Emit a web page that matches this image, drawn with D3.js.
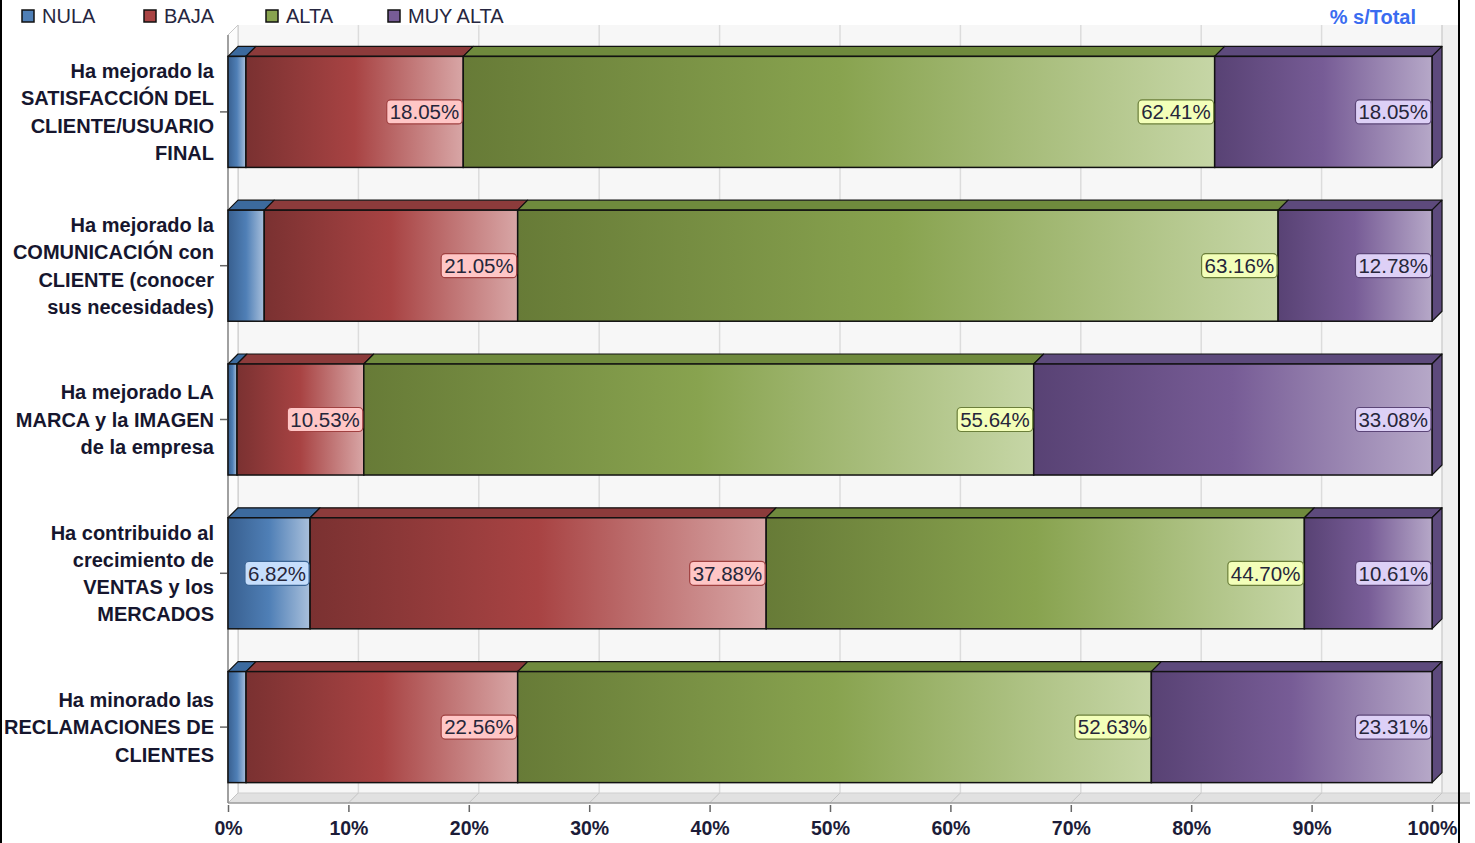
<!DOCTYPE html>
<html>
<head>
<meta charset="utf-8">
<script src="https://cdn.jsdelivr.net/npm/d3@7"></script>
<style>
  body { margin: 0; background: #fff; }
  svg { display: block; font-family: "Liberation Sans", Arial, sans-serif; }
</style>
</head>
<body>
<svg id="chart" width="1475" height="843"></svg>
<script>
// data (% s/Total)
var categories = [
    ["Ha mejorado la", "SATISFACCIÓN DEL", "CLIENTE/USUARIO", "FINAL"],
    ["Ha mejorado la", "COMUNICACIÓN con", "CLIENTE (conocer", "sus necesidades)"],
    ["Ha mejorado LA", "MARCA y la IMAGEN", "de la empresa"],
    ["Ha contribuido al", "crecimiento de", "VENTAS y los", "MERCADOS"],
    ["Ha minorado las", "RECLAMACIONES DE", "CLIENTES"]
];
var series_names = ["NULA", "BAJA", "ALTA", "MUY ALTA"];
var nula     = [1.49, 3.01, 0.75, 6.82, 1.50];
var baja     = [18.05, 21.05, 10.53, 37.88, 22.56];
var alta     = [62.41, 63.16, 55.64, 44.70, 52.63];
var muy_alta = [18.05, 12.78, 33.08, 10.61, 23.31];
var x_ticks  = [0, 10, 20, 30, 40, 50, 60, 70, 80, 90, 100];

// colours per series: dark / mid / light for gradient, top face, label box
var colours = [
    {dark: "#385f8f", mid: "#4f7fb6", light: "#a9c0dc", top: "#3c6a9e", box: "#c6defc", boxStroke: "#3a6494"},
    {dark: "#7a3131", mid: "#a84343", light: "#d8a6a6", top: "#8c3b3b", box: "#ffc6c6", boxStroke: "#a04040"},
    {dark: "#677b37", mid: "#88a34f", light: "#c6d6a6", top: "#6f8a3d", box: "#f3ffb9", boxStroke: "#6b7f3a"},
    {dark: "#584274", mid: "#775c96", light: "#b6a8c8", top: "#5d4a7c", box: "#ddd0f6", boxStroke: "#5b4577"}
];

var rows = categories.map(function(c, i) {
    var vals = [nula[i], baja[i], alta[i], muy_alta[i]];
    var acc = 0;
    return vals.map(function(v, k) {
        var seg = {row: i, k: k, v: v, x0: acc, x1: acc + v};
        acc += v;
        return seg;
    });
});

var svg = d3.select("#chart");
var depth = 10;
var x_scale = d3.scaleLinear().domain([0, 100]).range([228, 1432]);
var y_scale = d3.scaleBand().domain(d3.range(categories.length))
    .range([35, 804]).paddingInner(0.278).paddingOuter(0.139);

var wall_top = 25, floor_y = 803;

// gradients
var defs = svg.append("defs");
colours.forEach(function(c, k) {
    var g = defs.append("linearGradient").attr("id", "grad" + k)
        .attr("x1", "0%").attr("x2", "100%").attr("y1", "0%").attr("y2", "0%");
    g.append("stop").attr("offset", "0%").attr("stop-color", c.dark);
    g.append("stop").attr("offset", "50%").attr("stop-color", c.mid);
    g.append("stop").attr("offset", "100%").attr("stop-color", c.light);
});

// back wall + side strip on the right
svg.append("rect").attr("x", x_scale(100) + depth).attr("y", wall_top)
    .attr("width", 1459 - x_scale(100) - depth).attr("height", floor_y - depth - wall_top)
    .attr("fill", "#f0f0f0");
svg.append("rect").attr("x", x_scale(0) + depth).attr("y", wall_top)
    .attr("width", x_scale(100) - x_scale(0)).attr("height", floor_y - depth - wall_top)
    .attr("fill", "#f7f7f7");

// back wall grid
svg.append("g").selectAll("line").data(x_ticks).enter().append("line")
    .attr("x1", d => x_scale(d) + depth).attr("x2", d => x_scale(d) + depth)
    .attr("y1", wall_top).attr("y2", floor_y - depth)
    .attr("stroke", "#dcdcdc").attr("stroke-width", 1.5);
svg.append("line").attr("x1", x_scale(100) + depth).attr("x2", x_scale(100) + depth)
    .attr("y1", wall_top).attr("y2", floor_y - depth).attr("stroke", "#d0d0d0");

// left wall
svg.append("polygon")
    .attr("points", [[x_scale(0), wall_top + depth], [x_scale(0) + depth, wall_top],
        [x_scale(0) + depth, floor_y - depth], [x_scale(0), floor_y]].join(" "))
    .attr("fill", "#fcfcfc").attr("stroke", "#c8c8c8");

// floor
svg.append("polygon")
    .attr("points", [[x_scale(0), floor_y], [x_scale(0) + depth, floor_y - depth],
        [1470, floor_y - depth], [1470, floor_y]].join(" "))
    .attr("fill", "#e1e1e1").attr("stroke", "none");
svg.append("line").attr("x1", x_scale(0) + depth).attr("x2", 1470)
    .attr("y1", floor_y - depth).attr("y2", floor_y - depth).attr("stroke", "#cfcfcf");
svg.append("g").selectAll("line").data(x_ticks).enter().append("line")
    .attr("x1", d => x_scale(d)).attr("x2", d => x_scale(d) + depth)
    .attr("y1", floor_y).attr("y2", floor_y - depth)
    .attr("stroke", "#c4c4c4");
svg.append("line").attr("x1", x_scale(0)).attr("x2", 1470)
    .attr("y1", floor_y).attr("y2", floor_y).attr("stroke", "#9a9a9a").attr("stroke-width", 1.5);
svg.append("line").attr("x1", x_scale(0)).attr("x2", x_scale(0))
    .attr("y1", wall_top + depth).attr("y2", floor_y).attr("stroke", "#8a8a8a").attr("stroke-width", 1.5);

// x axis ticks and labels
var x_axis = d3.axisBottom(x_scale).tickValues(x_ticks).tickSize(7).tickFormat(d => d + "%");
var xg = svg.append("g").attr("transform", "translate(0," + (floor_y + 2) + ")").call(x_axis);
xg.select(".domain").remove();
xg.selectAll(".tick line").attr("stroke", "#666").attr("stroke-width", 1.5);
xg.selectAll(".tick text").attr("y", 16).attr("dy", "0.71em")
    .attr("font-size", "19.5px").attr("font-weight", "bold").attr("fill", "#1c1c38")
    .attr("font-family", "'Liberation Sans', Arial, sans-serif");

// y ticks
svg.append("g").selectAll("line").data(d3.range(categories.length)).enter().append("line")
    .attr("x1", 220).attr("x2", 227)
    .attr("y1", d => y_scale(d) + y_scale.bandwidth() / 2)
    .attr("y2", d => y_scale(d) + y_scale.bandwidth() / 2)
    .attr("stroke", "#666").attr("stroke-width", 1.5);

// category labels
var line_h = 27.3;
var cat = svg.append("g").selectAll("text").data(categories).enter().append("text")
    .attr("text-anchor", "end").attr("font-size", "20px").attr("font-weight", "bold")
    .attr("fill", "#16162e");
cat.each(function(lines, i) {
    var cy = y_scale(i) + y_scale.bandwidth() / 2;
    var start = cy - (lines.length - 1) * line_h / 2;
    d3.select(this).selectAll("tspan").data(lines).enter().append("tspan")
        .attr("x", 214).attr("y", (d, j) => start + j * line_h).attr("dy", "0.36em")
        .text(d => d);
});

// bars
var bar_h = y_scale.bandwidth();
var bars = svg.append("g");
rows.forEach(function(row, i) {
    var y0 = y_scale(i), y1 = y0 + bar_h;
    var g = bars.append("g");
    // top faces
    g.selectAll(".top").data(row).enter().append("polygon").attr("class", "top")
        .attr("points", d => [[x_scale(d.x0), y0], [x_scale(d.x0) + depth, y0 - depth],
            [x_scale(d.x1) + depth, y0 - depth], [x_scale(d.x1), y0]].join(" "))
        .attr("fill", d => colours[d.k].top).attr("stroke", "#111").attr("stroke-width", 1.2)
        .attr("stroke-linejoin", "round");
    // right face on last segment
    var last = row[row.length - 1];
    g.append("polygon")
        .attr("points", [[x_scale(100), y0], [x_scale(100) + depth, y0 - depth],
            [x_scale(100) + depth, y1 - depth], [x_scale(100), y1]].join(" "))
        .attr("fill", colours[last.k].top).attr("stroke", "#111").attr("stroke-width", 1.2)
        .attr("stroke-linejoin", "round");
    // front faces
    g.selectAll(".front").data(row).enter().append("rect").attr("class", "front")
        .attr("x", d => x_scale(d.x0)).attr("y", y0)
        .attr("width", d => x_scale(d.x1) - x_scale(d.x0)).attr("height", bar_h)
        .attr("fill", d => "url(#grad" + d.k + ")")
        .attr("stroke", "#111").attr("stroke-width", 1.5);
    // value labels
    var lab = g.selectAll(".lab").data(row.filter(d => d.v >= 5)).enter().append("g").attr("class", "lab");
    lab.each(function(d) {
        var cy = y0 + bar_h / 2;
        var t = d3.select(this).append("text")
            .attr("x", x_scale(d.x1) - 4).attr("y", cy).attr("dy", "0.36em")
            .attr("text-anchor", "end").attr("font-size", "20.5px").attr("fill", "#26263a")
            .text(d.v.toFixed(2) + "%");
        var bb = t.node().getBBox();
        d3.select(this).insert("rect", "text")
            .attr("x", bb.x - 3).attr("y", cy - 12).attr("width", bb.width + 6).attr("height", 24)
            .attr("rx", 4).attr("fill", colours[d.k].box)
            .attr("stroke", colours[d.k].boxStroke).attr("stroke-width", 1.2);
    });
});

// legend
var legend = svg.append("g").selectAll("g").data(series_names).enter().append("g")
    .attr("transform", (d, i) => "translate(" + (22 + i * 122) + ",10)");
legend.append("rect").attr("width", 12).attr("height", 12)
    .attr("fill", (d, i) => colours[i].mid).attr("stroke", "#111").attr("stroke-width", 1.5);
legend.append("text").attr("x", 20).attr("y", 6).attr("dy", "0.36em")
    .attr("font-size", "20px").attr("fill", "#262640").text(d => d);

// subtitle
svg.append("text").attr("x", 1416).attr("y", 17).attr("dy", "0.36em")
    .attr("text-anchor", "end").attr("font-size", "20px").attr("font-weight", "bold")
    .attr("fill", "#3a6cf0").text("% s/Total");

// frame lines
svg.append("line").attr("x1", 1).attr("x2", 1).attr("y1", 0).attr("y2", 843)
    .attr("stroke", "#000").attr("stroke-width", 2);
svg.append("line").attr("x1", 1459).attr("x2", 1459).attr("y1", 0).attr("y2", 843)
    .attr("stroke", "#000").attr("stroke-width", 2);
</script>
</body>
</html>
